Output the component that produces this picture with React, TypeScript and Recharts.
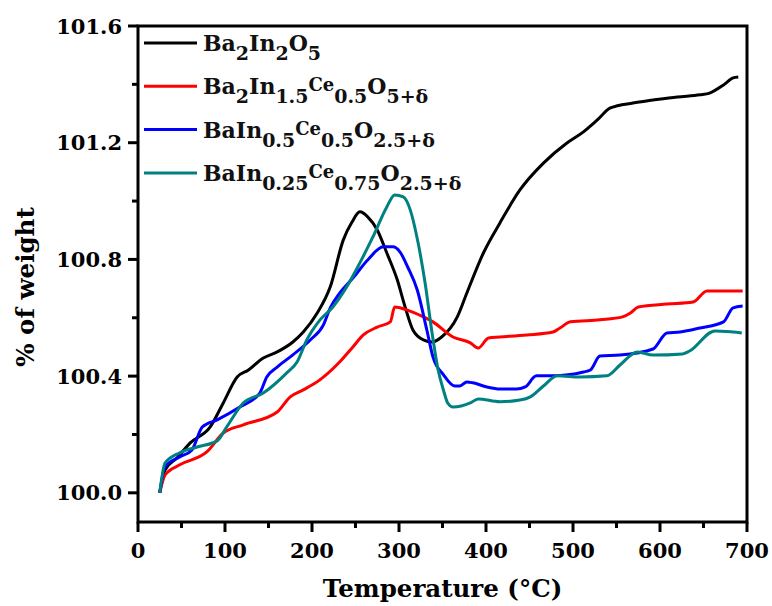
import React from "react";
import {
  LineChart, Line, XAxis, YAxis, Legend, ReferenceArea,
} from "recharts";

// TGA weight curves, [temperature °C, % of weight]
const ba2In2O5: [number, number][] = [
  [25, 100.0], [31, 100.078], [45, 100.12], [60, 100.171], [83, 100.226], [98, 100.308],
  [114, 100.397], [127, 100.421], [144, 100.462], [160, 100.483], [178, 100.517], [190, 100.551],
  [206, 100.616], [221, 100.706], [236, 100.867], [246, 100.928], [255, 100.963], [264, 100.946],
  [275, 100.901], [286, 100.822], [298, 100.73], [307, 100.637], [316, 100.558], [328, 100.524],
  [338, 100.517], [349, 100.534], [367, 100.603], [378, 100.685], [397, 100.822], [416, 100.925],
  [439, 101.038], [466, 101.13], [493, 101.199], [512, 101.237], [528, 101.278], [543, 101.319],
  [569, 101.336], [592, 101.346], [620, 101.357], [646, 101.364], [657, 101.37], [673, 101.398],
  [684, 101.422], [690, 101.425],
];

const ba2In15Ce05: [number, number][] = [
  [25, 100.0], [31, 100.061], [48, 100.096], [79, 100.14], [98, 100.205], [121, 100.233],
  [160, 100.277], [175, 100.329], [190, 100.353], [209, 100.387], [232, 100.449], [247, 100.5],
  [259, 100.541], [275, 100.568], [290, 100.586], [295, 100.637], [309, 100.627], [328, 100.603],
  [339, 100.586], [362, 100.534], [382, 100.514], [391, 100.496], [403, 100.531], [416, 100.534],
  [447, 100.541], [477, 100.551], [485, 100.565], [497, 100.586], [531, 100.593], [557, 100.603],
  [566, 100.616], [575, 100.637], [608, 100.647], [638, 100.654], [654, 100.692], [695, 100.692],
];

const baIn05Ce05: [number, number][] = [
  [25, 100.0], [31, 100.089], [48, 100.123], [62, 100.147], [74, 100.226], [91, 100.25],
  [117, 100.294], [140, 100.342], [148, 100.397], [160, 100.431], [178, 100.473], [198, 100.524],
  [213, 100.575], [221, 100.634], [232, 100.685], [247, 100.736], [264, 100.798], [282, 100.843],
  [293, 100.843], [301, 100.826], [310, 100.774], [321, 100.695], [332, 100.558], [339, 100.466],
  [351, 100.405], [364, 100.366], [370, 100.366], [378, 100.38], [385, 100.377], [401, 100.363],
  [416, 100.356], [435, 100.356], [445, 100.363], [458, 100.401], [477, 100.401], [512, 100.414],
  [520, 100.421], [531, 100.469], [554, 100.472], [592, 100.493], [608, 100.548], [623, 100.551],
  [646, 100.565], [673, 100.586], [684, 100.634], [695, 100.64],
];

const baIn025Ce075: [number, number][] = [
  [25, 100.0], [31, 100.102], [48, 100.137], [68, 100.157], [91, 100.178], [102, 100.226],
  [121, 100.308], [144, 100.342], [171, 100.411], [183, 100.449], [194, 100.524], [209, 100.592],
  [224, 100.637], [240, 100.706], [255, 100.788], [270, 100.877], [286, 100.98], [295, 101.021],
  [305, 101.014], [313, 100.969], [322, 100.856], [330, 100.719], [338, 100.548], [345, 100.421],
  [351, 100.353], [356, 100.308], [362, 100.294], [382, 100.308], [391, 100.322], [416, 100.312],
  [439, 100.318], [451, 100.329], [466, 100.366], [482, 100.401], [508, 100.397], [539, 100.401],
  [554, 100.438], [574, 100.483], [592, 100.472], [626, 100.476], [634, 100.486], [663, 100.555],
  [684, 100.551], [694, 100.548],
];

const xTicks = [0, 50, 100, 150, 200, 250, 300, 350, 400, 450, 500, 550, 600, 650, 700];
const yTicks = [100.0, 100.2, 100.4, 100.6, 100.8, 101.0, 101.2, 101.4, 101.6];

// formula pieces: "sub" = subscript, "small" = reduced raised text
type Part = { t: string; k?: "sub" | "small" };

const SERIES: { key: string; color: string; points: [number, number][]; label: Part[] }[] = [
  {
    key: "a", color: "#000000", points: ba2In2O5,
    label: [{ t: "Ba" }, { t: "2", k: "sub" }, { t: "In" }, { t: "2", k: "sub" }, { t: "O" }, { t: "5", k: "sub" }],
  },
  {
    key: "b", color: "#ff0000", points: ba2In15Ce05,
    label: [{ t: "Ba" }, { t: "2", k: "sub" }, { t: "In" }, { t: "1.5", k: "sub" }, { t: "Ce", k: "small" },
      { t: "0.5", k: "sub" }, { t: "O" }, { t: "5+δ", k: "sub" }],
  },
  {
    key: "c", color: "#0000ff", points: baIn05Ce05,
    label: [{ t: "BaIn" }, { t: "0.5", k: "sub" }, { t: "Ce", k: "small" }, { t: "0.5", k: "sub" },
      { t: "O" }, { t: "2.5+δ", k: "sub" }],
  },
  {
    key: "d", color: "#008080", points: baIn025Ce075,
    label: [{ t: "BaIn" }, { t: "0.25", k: "sub" }, { t: "Ce", k: "small" }, { t: "0.75", k: "sub" },
      { t: "O" }, { t: "2.5+δ", k: "sub" }],
  },
];

const FONT = "'DejaVu Serif', serif";

const PART_STYLE = {
  sub: { size: 19, shift: 9 },
  small: { size: 18, shift: -3 },
  none: { size: 22, shift: 0 },
};

function XTick({ x, y, payload }: any) {
  const v = payload.value as number;
  const major = v % 100 === 0;
  return (
    <g>
      <line x1={x} x2={x} y1={y} y2={y + (major ? 10 : 6)} stroke="#000" strokeWidth={3} />
      {major && (
        <text x={x} y={y + 36} textAnchor="middle" fontFamily={FONT} fontWeight="bold" fontSize={21} fill="#000">
          {v}
        </text>
      )}
    </g>
  );
}

function YTick({ x, y, payload }: any) {
  const v = payload.value as number;
  const major = Math.round(v * 10) % 4 === 0;
  return (
    <g>
      <line x1={x - (major ? 10 : 6)} x2={x} y1={y} y2={y} stroke="#000" strokeWidth={3} />
      {major && (
        <text x={x - 16} y={y + 7.5} textAnchor="end" fontFamily={FONT} fontWeight="bold" fontSize={21} fill="#000">
          {v.toFixed(1)}
        </text>
      )}
    </g>
  );
}

function Formula({ parts }: { parts: Part[] }) {
  let prev = 0;
  return (
    <>
      {parts.map((p, i) => {
        const s = PART_STYLE[p.k ?? "none"];
        const dy = s.shift - prev;
        prev = s.shift;
        return (
          <tspan key={i} dy={dy} fontSize={s.size}>{p.t}</tspan>
        );
      })}
    </>
  );
}

function FormulaLegend() {
  const rowGap = 43.3;
  return (
    <svg width={360} height={175} style={{ display: "block" }}>
      {SERIES.map((s, i) => {
        const cy = 15 + i * rowGap;
        return (
          <g key={s.key}>
            <line x1={4} x2={57} y1={cy} y2={cy} stroke={s.color} strokeWidth={3} />
            <text x={63} y={cy + 8} fontFamily={FONT} fontWeight="bold" fill="#111">
              <Formula parts={s.label} />
            </text>
          </g>
        );
      })}
    </svg>
  );
}

export default function App() {
  return (
    <div style={{ position: "absolute", left: 0, top: 0, background: "#fff" }}>
      <LineChart width={772} height={606} margin={{ top: 26, right: 25, left: 0, bottom: 0 }}>
        <XAxis
          type="number"
          dataKey="t"
          domain={[0, 700]}
          ticks={xTicks}
          interval={0}
          height={84}
          tickSize={0}
          tickMargin={0}
          axisLine={false}
          tickLine={false}
          tick={<XTick />}
          allowDataOverflow
          label={{
            value: "Temperature (°C)",
            position: "insideBottom",
            offset: 9,
            style: { fontFamily: FONT, fontWeight: "bold", fontSize: 24.5, fill: "#000" },
          }}
        />
        <YAxis
          type="number"
          domain={[99.9, 101.6]}
          ticks={yTicks}
          interval={0}
          width={138}
          tickSize={0}
          tickMargin={0}
          axisLine={false}
          tickLine={false}
          tick={<YTick />}
          allowDataOverflow
          label={{
            value: "% of weight",
            position: "center",
            angle: -90,
            dx: -44,
            dy: 13,
            style: { fontFamily: FONT, fontWeight: "bold", fontSize: 24.5, fill: "#000" },
          }}
        />
        <ReferenceArea x1={0} x2={700} y1={99.9} y2={101.6} fill="none" stroke="#000" strokeWidth={3} />
        {SERIES.map((s) => (
          <Line
            key={s.key}
            data={s.points.map(([t, w]) => ({ t, w }))}
            dataKey="w"
            type="monotone"
            stroke={s.color}
            strokeWidth={3}
            dot={false}
            isAnimationActive={false}
          />
        ))}
        <Legend
          layout="vertical"
          align="center"
          verticalAlign="middle"
          wrapperStyle={{ left: 140, top: 28, width: 360 }}
          content={() => <FormulaLegend />}
        />
      </LineChart>
    </div>
  );
}
